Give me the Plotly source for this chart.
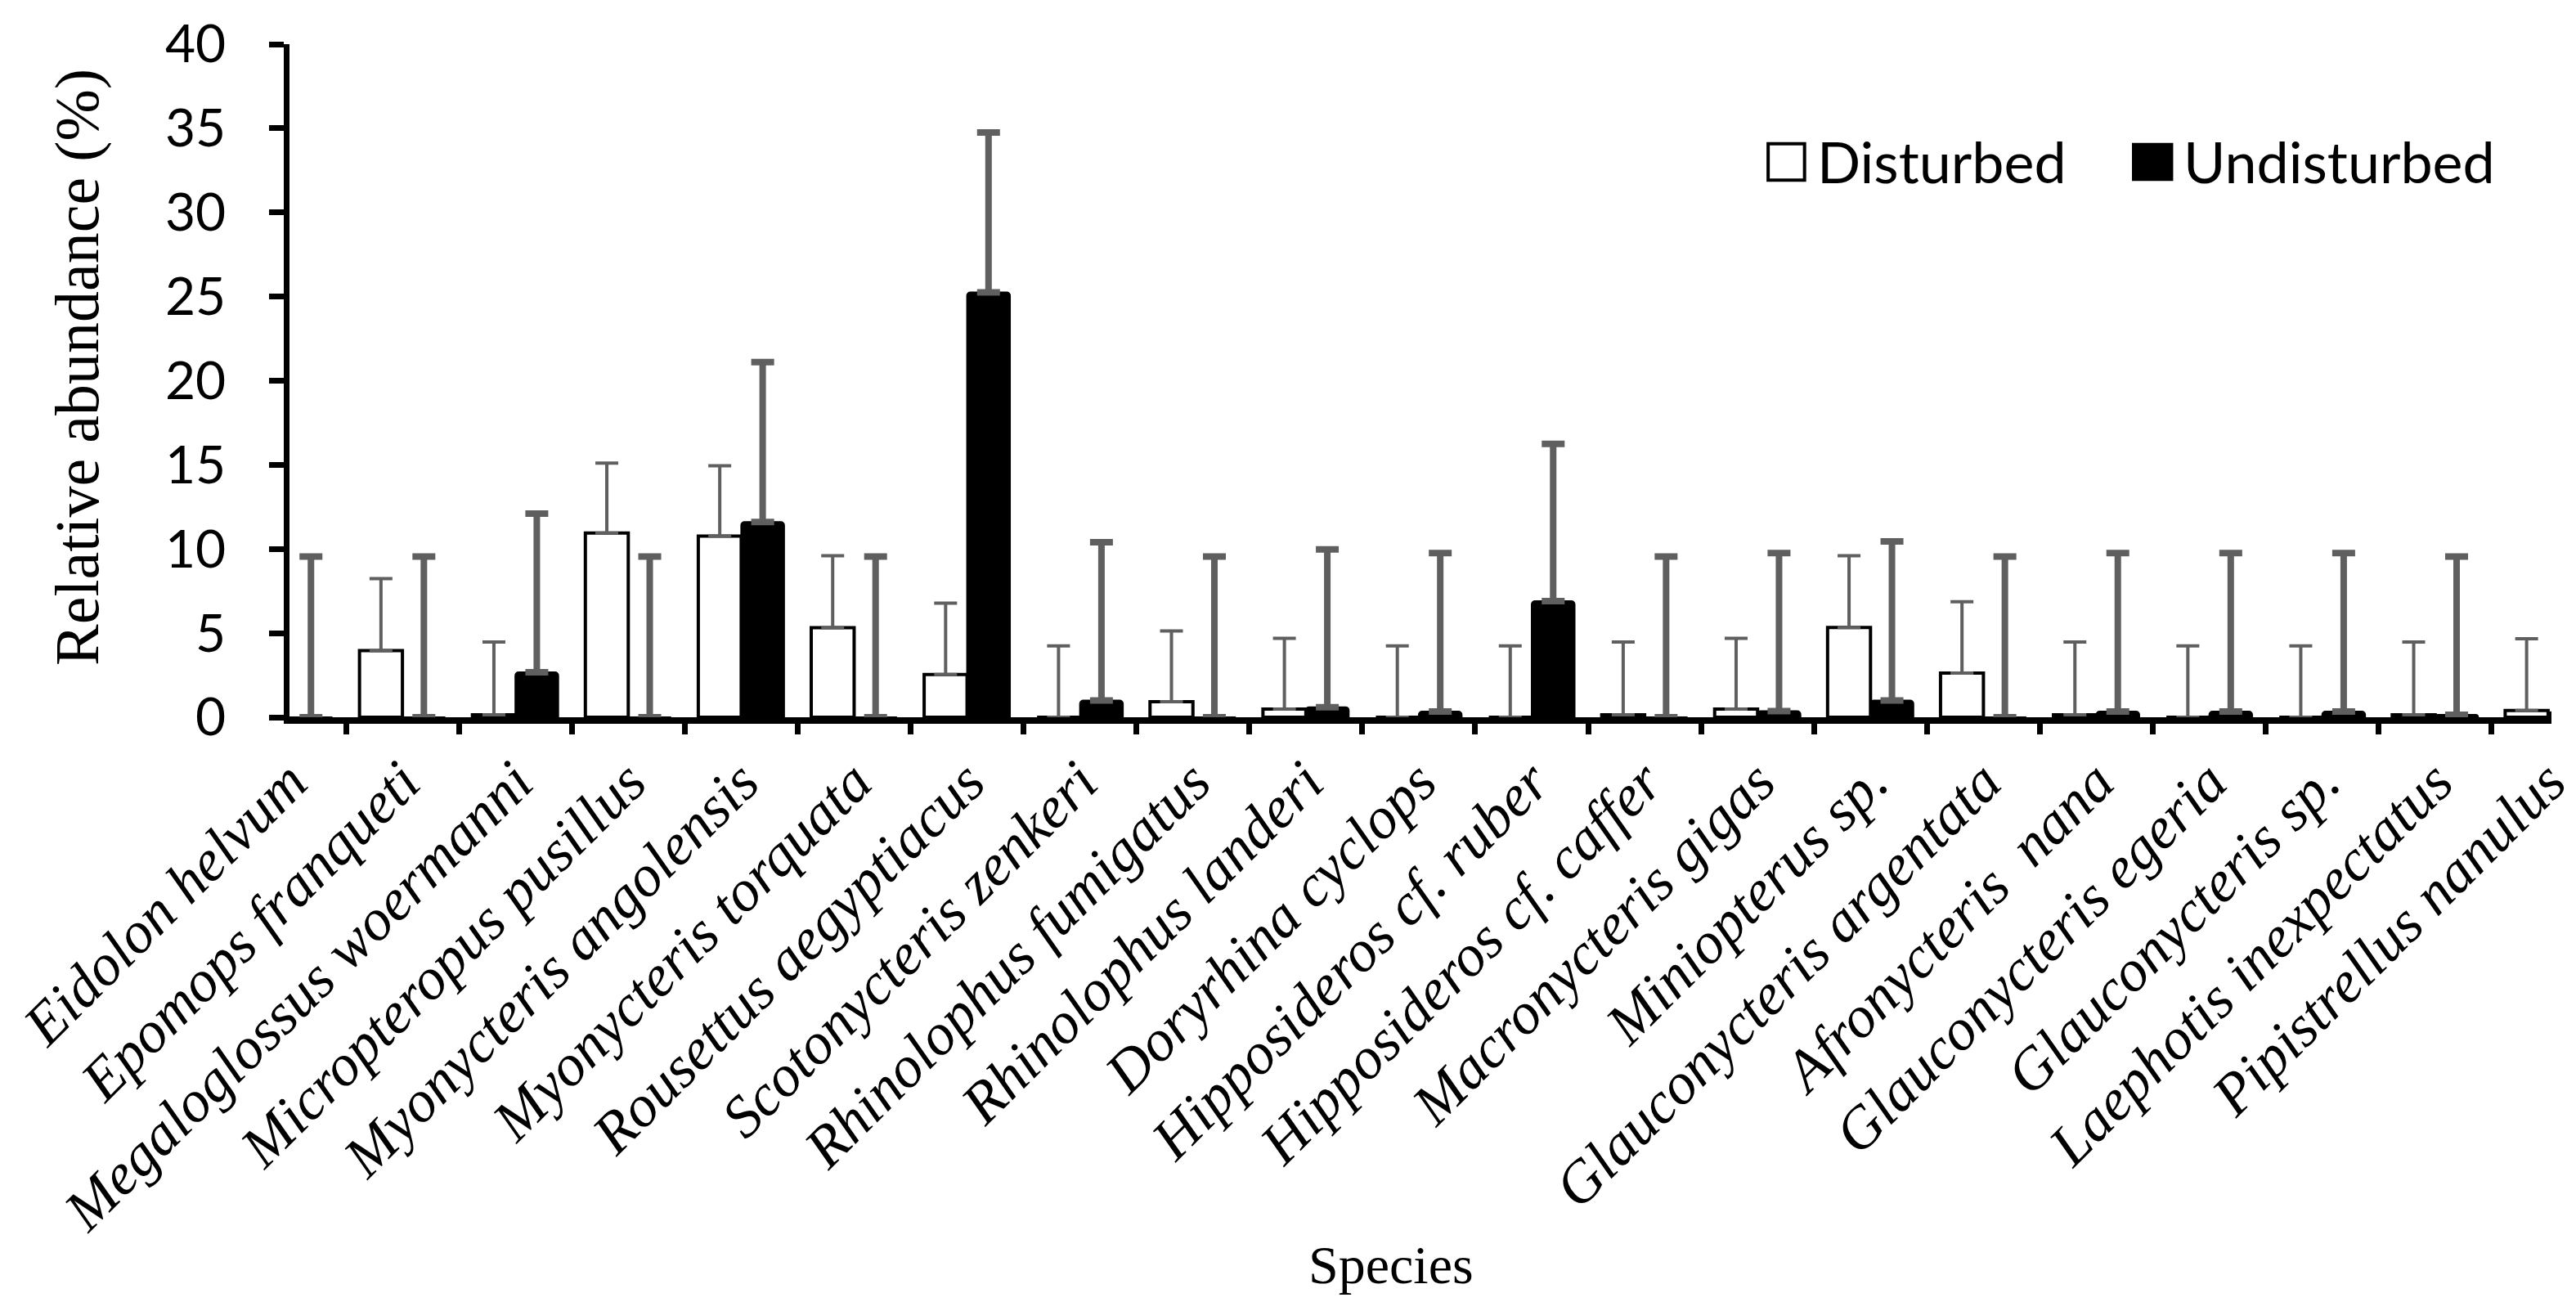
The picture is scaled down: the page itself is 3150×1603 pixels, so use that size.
import plotly.graph_objects as go

# species on the x axis
species = ["Eidolon helvum", "Epomops franqueti", "Megaloglossus woermanni",
           "Micropteropus pusillus", "Myonycteris angolensis", "Myonycteris torquata",
           "Rousettus aegyptiacus", "Scotonycteris zenkeri", "Rhinolophus fumigatus",
           "Rhinolophus landeri", "Doryrhina cyclops", "Hipposideros cf. ruber",
           "Hipposideros cf. caffer", "Macronycteris gigas", "Miniopterus sp.",
           "Glauconycteris argentata", "Afronycteris  nana", "Glauconycteris egeria",
           "Glauconycteris sp.", "Laephotis inexpectatus", "Pipistrellus nanulus"]

# relative abundance (%) and upper error (%)
disturbed = [0, 3.96, 0.15, 10.95, 10.76, 5.32, 2.54, 0, 0.92, 0.49, 0,
             0, 0.15, 0.49, 5.34, 2.62, 0.15, 0, 0, 0.15, 0.4]
disturbed_err = [4.2, 4.28, 4.32, 4.15, 4.19, 4.28, 4.24, 4.24, 4.21, 4.2, 4.24,
                 4.24, 4.32, 4.2, 4.26, 4.24, 4.32, 4.24, 4.24, 4.32, 4.26]
undisturbed = [0, 0, 2.67, 0, 11.6, 0, 25.25, 1.0, 0, 0.6, 0.34,
               6.9, 0, 0.36, 1.0, 0, 0.34, 0.34, 0.34, 0.15, 0.3]
undisturbed_err = [9.55, 9.55, 9.43, 9.55, 9.5, 9.55, 9.5, 9.4, 9.55, 9.38, 9.42,
                   9.35, 9.55, 9.4, 9.45, 9.55, 9.42, 9.42, 9.42, 9.4, 9.3]

err_color = "#5f5f5f"
serif = "Liberation Serif, Times New Roman, serif"

fig = go.Figure()
fig.add_trace(go.Bar(
    x=species, y=disturbed, name="Disturbed",
    marker=dict(color="white", line=dict(color="black", width=4)),
    error_y=dict(type="data", symmetric=False, array=disturbed_err,
                 arrayminus=[0] * len(species), color=err_color, thickness=4, width=14),
))
fig.add_trace(go.Bar(
    x=species, y=undisturbed, name="Undisturbed",
    marker=dict(color="black", line=dict(color="black", width=2), cornerradius=4),
    error_y=dict(type="data", symmetric=False, array=undisturbed_err,
                 arrayminus=[0] * len(species), color=err_color, thickness=8, width=14),
))

# legend drawn by hand so the swatches can be as large as in the original
shapes = [
    dict(type="rect", xref="paper", yref="paper", x0=0.6537, x1=0.6698, y0=0.798, y1=0.852,
         fillcolor="white", line=dict(color="black", width=4)),
    dict(type="rect", xref="paper", yref="paper", x0=0.8149, x1=0.8324, y0=0.798, y1=0.852,
         fillcolor="black", line=dict(color="black", width=2)),
]
annotations = [
    dict(text="Disturbed", xref="paper", yref="paper", x=0.6745, y=0.826,
         xanchor="left", yanchor="middle", showarrow=False,
         font=dict(family="Lato", size=70, color="black")),
    dict(text="Undisturbed", xref="paper", yref="paper", x=0.8365, y=0.826,
         xanchor="left", yanchor="middle", showarrow=False,
         font=dict(family="Lato", size=70, color="black")),
    dict(text="Relative abundance (%)", xref="paper", yref="paper", x=-0.094, y=0.52,
         xanchor="center", yanchor="middle", textangle=-90, showarrow=False,
         font=dict(family=serif, size=76, color="black")),
    dict(text="Species", xref="paper", yref="paper", x=0.487, y=-0.814,
         xanchor="center", yanchor="middle", showarrow=False,
         font=dict(family=serif, size=66, color="black")),
]

fig.update_layout(
    width=3150, height=1603,
    margin=dict(l=341, r=5, t=40, b=734),
    paper_bgcolor="white", plot_bgcolor="white",
    barmode="group", bargap=0.24, bargroupgap=0,
    showlegend=False,
    shapes=shapes, annotations=annotations,
)
fig.update_xaxes(
    range=[0, 20.03], tickson="boundaries", ticks="outside", ticklen=13, tickwidth=7,
    tickcolor="black", showline=True, linecolor="black", linewidth=8,
    tickangle=-45, showgrid=False, zeroline=False,
    tickfont=dict(family=serif, size=72, color="black", style="italic"),
)
fig.update_yaxes(
    range=[0, 40], dtick=5, ticks="outside", ticklen=18, tickwidth=7,
    tickcolor="black", showline=True, linecolor="black", linewidth=7,
    showgrid=False, zeroline=False, ticklabelstandoff=40, ticklabeloverflow="allow",
    tickfont=dict(family="Lato", size=64, color="black"),
)

fig.write_html("out.html")
